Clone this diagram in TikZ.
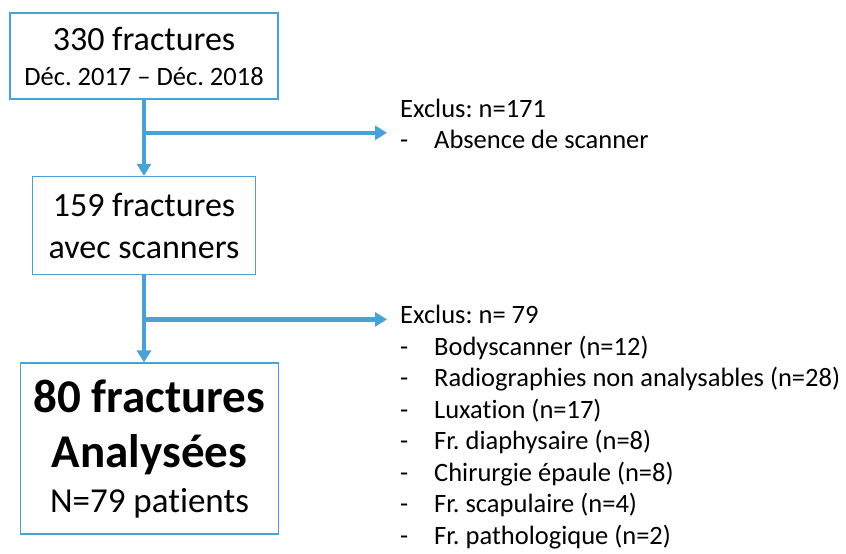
\documentclass[tikz,border=0pt]{standalone}
\usepackage{fontspec}
\setmainfont{Carlito}[Ligatures={TeX,NoCommon}]
\usepackage{xcolor}
\usetikzlibrary{arrows.meta,positioning}
\definecolor{flowblue}{RGB}{72,162,214}
\newcommand\exclitem{\makebox[34pt][l]{-}}
\frenchspacing
\begin{document}
\begin{tikzpicture}[x=1pt,y=1pt]

\tikzstyle{block} = [draw=flowblue, line width=1.6pt, rectangle, align=center, inner sep=0pt]
\tikzstyle{flow} = [draw=flowblue, line width=4.5pt, -{Triangle[length=12pt,width=14pt]}]
\tikzstyle{excl} = [align=left, inner sep=0pt, font=\fontsize{26.5}{31.5}\selectfont]

\useasboundingbox (0,0) rectangle (846,-554);

\node [block, minimum width=268pt, minimum height=86pt, font=\fontsize{26.5}{35}\selectfont] (total) at (144,-56) {{\fontsize{34}{35}\selectfont 330 fractures}\\Déc. 2017 – Déc. 2018};
\node [block, below = 76pt of total, minimum width=223pt, minimum height=98pt, font=\fontsize{34}{42}\selectfont] (scanned) {159 fractures\\avec scanners};
\node [block, below = 87pt of scanned, xshift=5.5pt, minimum width=258pt, minimum height=171pt, font=\fontsize{35}{45}\selectfont] (analysed) {{\bfseries\fontsize{47}{45}\selectfont 80 fractures}\\[10pt]{\bfseries\fontsize{47}{45}\selectfont Analysées}\\N=79 patients};

\coordinate [below = 33pt of total.south] (split1);
\coordinate [below = 44pt of scanned.south] (split2);

\node [excl, anchor=west] (excl1) at (400,-124) {Exclus: n=171\\\exclitem Absence de scanner};
\node [excl, anchor=west] (excl2) at (400,-427) {Exclus: n= 79\\
\exclitem Bodyscanner (n=12)\\
\exclitem Radiographies non analysables (n=28)\\
\exclitem Luxation (n=17)\\
\exclitem Fr. diaphysaire (n=8)\\
\exclitem Chirurgie épaule (n=8)\\
\exclitem Fr. scapulaire (n=4)\\
\exclitem Fr. pathologique (n=2)};

\draw [flow] (total) -- (scanned);
\draw [flow] (scanned.south) -- (scanned.south |- analysed.north);
\draw [flow, shorten >=13pt] (split1) -- (split1 -| excl1.west);
\draw [flow, shorten >=13pt] (split2) -- (split2 -| excl2.west);
\end{tikzpicture}
\end{document}
